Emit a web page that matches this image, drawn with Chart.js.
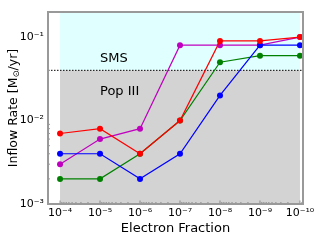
<!DOCTYPE html>
<html>
<head>
<meta charset="utf-8">
<script src="https://cdn.jsdelivr.net/npm/chart.js@4/dist/chart.umd.min.js"></script>
<style>
  html, body { margin: 0; padding: 0; background: #fff; }
  #wrap { width: 320px; height: 240px; }
</style>
</head>
<body>
<div id="wrap"><canvas id="c" width="320" height="240"></canvas></div>
<script>
// ── DATA ──
const electronFraction = [1e-4, 1e-5, 1e-6, 1e-7, 1e-8, 1e-9, 1e-10];
const xTickLabels = ['10⁻⁴', '10⁻⁵', '10⁻⁶', '10⁻⁷', '10⁻⁸', '10⁻⁹', '10⁻¹⁰'];
const yTickValues = [1e-3, 1e-2, 1e-1];
const yTickLabels = ['10⁻³', '10⁻²', '10⁻¹'];

const redRate     = [0.007, 0.008, 0.004, 0.01, 0.09, 0.09, 0.1];
const blueRate    = [0.004, 0.004, 0.002, 0.004, 0.02, 0.08, 0.08];
const greenRate   = [0.002, 0.002, 0.004, 0.01, 0.05, 0.06, 0.06];
const magentaRate = [0.003, 0.006, 0.008, 0.08, 0.08, 0.08, 0.1];

const threshold = 0.04;   // SMS / Pop III boundary
const regionLabels = [
  { text: 'SMS', x: 1e-5, y: 0.05 },
  { text: 'Pop III', x: 1e-5, y: 0.02 },
];
// y title pieces: normal, subscript, normal
const yTitle = ['Inflow Rate [M', '⊙', '/yr]'];

const FONT = "'DejaVu Sans', sans-serif";

function series(vals) {
  return electronFraction.map((x, i) => ({ x, y: vals[i] }));
}

function ds(label, vals, color) {
  return {
    label,
    data: series(vals),
    borderColor: color,
    backgroundColor: color,
    borderWidth: 1.2,
    pointRadius: 3,
    pointBorderWidth: 0,
    showLine: true,
  };
}

// ── BACKGROUND REGIONS, THRESHOLD, LABELS, FRAME ──
const regions = {
  id: 'regions',
  beforeDatasetsDraw(chart) {
    const { ctx, chartArea: a, scales: { x, y } } = chart;
    const x0 = x.getPixelForValue(electronFraction[0]);
    const x1 = x.getPixelForValue(electronFraction[electronFraction.length - 1]);
    const yt = y.getPixelForValue(threshold);
    ctx.save();
    ctx.fillStyle = '#e0ffff';
    ctx.fillRect(x0, a.top, x1 - x0, yt - a.top);
    ctx.fillStyle = '#d3d3d3';
    ctx.fillRect(x0, yt, x1 - x0, a.bottom - yt);

    // minor ticks, pointing inward
    ctx.strokeStyle = '#555';
    ctx.lineWidth = 0.6;
    for (let e = -11; e <= -3; e++) {
      for (let m = 1; m <= 9; m++) {
        const v = m * Math.pow(10, e);
        const len = m === 1 ? 3.5 : 2;
        if (v >= x.min && v <= x.max) {
          const px = x.getPixelForValue(v);
          ctx.beginPath();
          ctx.moveTo(px, a.bottom);
          ctx.lineTo(px, a.bottom - len);
          ctx.stroke();
        }
        if (v >= y.min && v <= y.max) {
          const py = y.getPixelForValue(v);
          ctx.beginPath();
          ctx.moveTo(a.left, py);
          ctx.lineTo(a.left + len, py);
          ctx.stroke();
        }
      }
    }

    // threshold line
    ctx.strokeStyle = '#000';
    ctx.lineWidth = 1;
    ctx.setLineDash([1.5, 1.5]);
    ctx.beginPath();
    ctx.moveTo(a.left, yt);
    ctx.lineTo(a.right, yt);
    ctx.stroke();
    ctx.setLineDash([]);

    // region labels
    ctx.fillStyle = '#000';
    ctx.font = '13px ' + FONT;
    ctx.textAlign = 'left';
    ctx.textBaseline = 'alphabetic';
    regionLabels.forEach(l => {
      ctx.fillText(l.text, x.getPixelForValue(l.x), y.getPixelForValue(l.y));
    });
    ctx.restore();
  },
  afterDraw(chart) {
    const { ctx, chartArea: a } = chart;
    ctx.save();
    ctx.strokeStyle = '#999';
    ctx.lineWidth = 2;
    ctx.strokeRect(a.left, a.top, a.right - a.left, a.bottom - a.top);

    // y axis title with subscript
    const big = '12.5px ' + FONT, small = '8.5px ' + FONT;
    ctx.font = big;
    const w0 = ctx.measureText(yTitle[0]).width;
    const w2 = ctx.measureText(yTitle[2]).width;
    ctx.font = small;
    const w1 = ctx.measureText(yTitle[1]).width;
    const total = w0 + w1 + w2;
    ctx.translate(17, (a.top + a.bottom) / 2);
    ctx.rotate(-Math.PI / 2);
    ctx.fillStyle = '#000';
    ctx.textBaseline = 'alphabetic';
    ctx.textAlign = 'left';
    let cx = -total / 2;
    ctx.font = big;
    ctx.fillText(yTitle[0], cx, 0);
    cx += w0;
    ctx.font = small;
    ctx.fillText(yTitle[1], cx, 2);
    cx += w1;
    ctx.font = big;
    ctx.fillText(yTitle[2], cx, 0);
    ctx.restore();
  }
};

// ── CHART ──
new Chart(document.getElementById('c'), {
  type: 'scatter',
  data: {
    datasets: [
      ds('red', redRate, '#ff0000'),
      ds('blue', blueRate, '#0000ff'),
      ds('green', greenRate, '#008000'),
      ds('magenta', magentaRate, '#bf00bf'),
    ]
  },
  options: {
    responsive: false,
    animation: false,
    layout: { padding: { top: 12, right: 17, left: 0, bottom: 0 } },
    plugins: { legend: { display: false }, tooltip: { enabled: false } },
    scales: {
      x: {
        type: 'logarithmic',
        reverse: true,
        min: 8.4e-11,
        max: 2e-4,
        afterBuildTicks: s => { s.ticks = electronFraction.map(v => ({ value: v })); },
        afterFit: s => { s.height = 36; },
        grid: { display: false, drawTicks: false },
        border: { display: false },
        ticks: {
          color: '#000',
          font: { family: FONT, size: 11 },
          padding: 3,
          maxRotation: 0,
          autoSkip: false,
          callback: (v, i) => xTickLabels[i],
        },
        title: {
          display: true,
          text: 'Electron Fraction',
          color: '#000',
          font: { family: FONT, size: 13 },
          padding: { top: 0, bottom: 4 },
        }
      },
      y: {
        type: 'logarithmic',
        min: 1e-3,
        max: 0.2,
        afterBuildTicks: s => { s.ticks = yTickValues.map(v => ({ value: v })); },
        afterFit: s => { s.width = 48; },
        grid: { display: false, drawTicks: false },
        border: { display: false },
        ticks: {
          color: '#000',
          font: { family: FONT, size: 11 },
          padding: 4,
          autoSkip: false,
          callback: (v, i) => yTickLabels[i],
        },
        title: { display: false }
      }
    }
  },
  plugins: [regions]
});
</script>
</body>
</html>
